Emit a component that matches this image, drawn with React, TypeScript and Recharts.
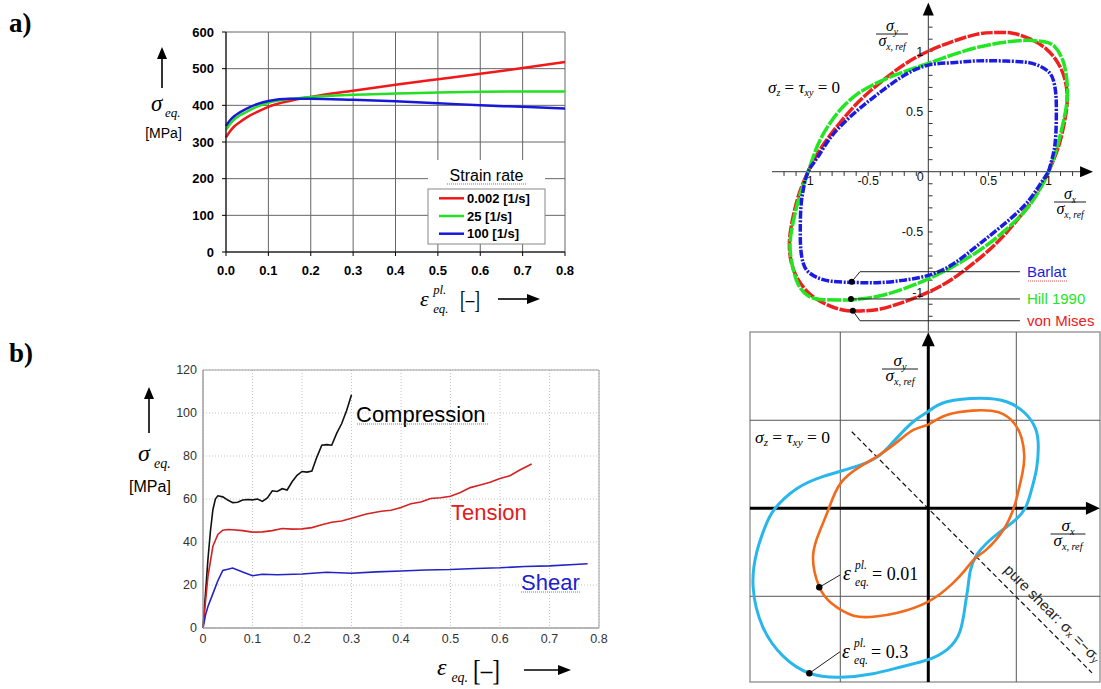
import {
  LineChart,
  Line,
  XAxis,
  YAxis,
  CartesianGrid,
  ReferenceLine,
  ReferenceDot,
  ReferenceArea,
} from 'recharts';

const SANS = "'Liberation Sans', Arial, Helvetica, sans-serif";
const SERIF = "'Liberation Serif', 'Times New Roman', serif";

// a) flow curves for three strain rates
const strainA = [0, 0.01, 0.02, 0.03, 0.05, 0.075, 0.1, 0.15, 0.2, 0.3, 0.4, 0.5, 0.6, 0.7, 0.8];
const rateSlow = [313, 330, 343, 352, 368, 383, 396, 412, 423, 440, 456, 471, 486, 502, 518];
const rateMid = [333, 350, 362, 371, 383, 397, 407, 417, 423, 429, 432, 435, 437, 438, 438];
const rateFast = [344, 360, 371, 379, 392, 404, 412, 418, 418, 415, 411, 406, 400, 396, 391];
const xTicksA = [0, 0.1, 0.2, 0.3, 0.4, 0.5, 0.6, 0.7, 0.8];
const yTicksA = [0, 100, 200, 300, 400, 500, 600];
const legendA = ['0.002 [1/s]', '25 [1/s]', '100 [1/s]'];
const colorsA = ['#f01818', '#22e022', '#1818d8'];

// b) compression / tension / shear
const compStrain = [0, 0.005, 0.01, 0.015, 0.02, 0.025, 0.03, 0.04, 0.05, 0.06, 0.07, 0.08, 0.09, 0.1, 0.11, 0.12, 0.13, 0.14, 0.15, 0.16, 0.17, 0.18, 0.19, 0.2, 0.21, 0.22, 0.23, 0.24, 0.25, 0.26, 0.27, 0.28, 0.29, 0.3];
const compStress = [0, 16, 32, 45, 55, 60, 61.5, 61, 59.5, 58.3, 58.5, 59.5, 59.8, 59.6, 60, 58.9, 60.5, 63.8, 63.5, 64.8, 64.2, 68, 71, 72.8, 72.5, 73, 79.5, 85, 85.3, 85, 90.5, 95, 101, 108.5];
const tensStrain = [0, 0.005, 0.01, 0.02, 0.03, 0.04, 0.05, 0.06, 0.08, 0.1, 0.12, 0.14, 0.16, 0.18, 0.2, 0.22, 0.24, 0.26, 0.28, 0.3, 0.33, 0.36, 0.38, 0.4, 0.42, 0.44, 0.46, 0.48, 0.5, 0.52, 0.54, 0.56, 0.58, 0.6, 0.62, 0.64, 0.664];
const tensStress = [0, 12, 24, 38, 43.5, 45.5, 45.8, 45.7, 45.3, 44.6, 44.7, 45.3, 46.3, 46, 46.1, 46.7, 48, 49.2, 49.8, 51, 53, 54.3, 54.8, 56, 57.8, 58.6, 60.2, 60.6, 61.3, 63, 65.3, 66.5, 67.8, 69.5, 70.8, 73.5, 76.3];
const shearStrain = [0, 0.005, 0.01, 0.02, 0.03, 0.04, 0.05, 0.06, 0.08, 0.1, 0.12, 0.15, 0.2, 0.25, 0.3, 0.35, 0.4, 0.45, 0.5, 0.55, 0.6, 0.65, 0.7, 0.75, 0.777];
const shearStress = [0, 6, 10, 16, 22, 26.8, 27.3, 27.9, 26, 24.3, 25, 24.8, 25.1, 25.9, 25.5, 26.1, 26.5, 27, 27.2, 27.7, 28, 28.6, 28.9, 29.5, 29.9];
const xTicksB = [0, 0.1, 0.2, 0.3, 0.4, 0.5, 0.6, 0.7, 0.8];
const yTicksB = [0, 20, 40, 60, 80, 100, 120];

// yield loci (sigma_x / ref, sigma_y / ref)
const vonMises = [[1.0, 0], [1.08, 0.2], [1.13, 0.4], [1.155, 0.58], [1.14, 0.75], [1.08, 0.9], [0.98, 1.02], [0.85, 1.1], [0.7, 1.15], [0.55, 1.155], [0.4, 1.14], [0.2, 1.08], [0, 1.0], [-0.2, 0.89], [-0.4, 0.74], [-0.58, 0.58], [-0.74, 0.4], [-0.89, 0.2], [-1.0, 0], [-1.08, -0.2], [-1.13, -0.4], [-1.155, -0.58], [-1.14, -0.75], [-1.08, -0.9], [-0.98, -1.02], [-0.85, -1.1], [-0.7, -1.15], [-0.55, -1.155], [-0.4, -1.14], [-0.2, -1.08], [0, -1.0], [0.2, -0.89], [0.4, -0.74], [0.58, -0.58], [0.74, -0.4], [0.89, -0.2], [1.0, 0]];
const hill1990 = [[-0.57, 0.66], [-0.7, 0.55], [-0.82, 0.4], [-0.92, 0.22], [-1.0, 0], [-1.07, -0.2], [-1.12, -0.4], [-1.15, -0.6], [-1.13, -0.78], [-1.08, -0.94], [-1.0, -1.03], [-0.9, -1.06], [-0.75, -1.065], [-0.6, -1.06], [-0.4, -1.03], [-0.2, -0.97], [0, -0.89], [0.2, -0.79], [0.4, -0.67], [0.6, -0.52], [0.8, -0.33], [0.92, -0.16], [1.0, 0], [1.07, 0.2], [1.12, 0.4], [1.155, 0.6], [1.15, 0.78], [1.12, 0.92], [1.05, 1.04], [0.95, 1.08], [0.8, 1.09], [0.6, 1.07], [0.4, 1.03], [0.2, 0.97], [0, 0.9], [-0.2, 0.83], [-0.4, 0.75], [-0.57, 0.66]];
const barlat = [[1.0, 0], [1.04, 0.15], [1.06, 0.3], [1.065, 0.5], [1.06, 0.65], [1.04, 0.76], [1.0, 0.83], [0.92, 0.88], [0.8, 0.91], [0.6, 0.92], [0.4, 0.92], [0.2, 0.905], [0, 0.885], [-0.2, 0.8], [-0.4, 0.66], [-0.6, 0.5], [-0.8, 0.3], [-0.92, 0.12], [-1.0, 0], [-1.04, -0.15], [-1.06, -0.3], [-1.065, -0.5], [-1.06, -0.65], [-1.04, -0.76], [-1.0, -0.83], [-0.92, -0.88], [-0.8, -0.91], [-0.6, -0.92], [-0.4, -0.92], [-0.2, -0.9], [0, -0.86], [0.2, -0.77], [0.4, -0.62], [0.6, -0.46], [0.8, -0.28], [0.92, -0.12], [1.0, 0]];
const majorTR = [-1, -0.5, 0.5, 1];
const minorTR = [-1.2, -1.1, -1, -0.9, -0.8, -0.7, -0.6, -0.5, -0.4, -0.3, -0.2, -0.1, 0.1, 0.2, 0.3, 0.4, 0.5, 0.6, 0.7, 0.8, 0.9, 1, 1.1, 1.2];
const lociNames = ['Barlat', 'Hill 1990', 'von Mises'];
const lociColors = ['#1c1ce0', '#22e622', '#ee2020'];

// evolving yield locus at two plastic strains
const locus001 = [[0, 0.95], [0.21, 1.06], [0.5, 1.11], [0.8, 1.09], [0.98, 0.96], [1.06, 0.8], [1.09, 0.6], [1.07, 0.4], [1.02, 0.18], [0.97, 0], [0.85, -0.25], [0.66, -0.47], [0.53, -0.57], [0.42, -0.7], [0.28, -0.85], [0, -1.06], [-0.36, -1.19], [-0.6, -1.23], [-0.85, -1.22], [-1.1, -1.08], [-1.24, -0.89], [-1.31, -0.55], [-1.23, -0.25], [-1.13, 0], [-1.0, 0.28], [-0.78, 0.47], [-0.55, 0.61], [-0.32, 0.78], [-0.17, 0.89], [0, 0.95]];
const locus03 = [[0, 1.1], [0.21, 1.21], [0.59, 1.25], [0.89, 1.21], [1.1, 1.08], [1.22, 0.9], [1.25, 0.7], [1.23, 0.45], [1.17, 0.2], [1.1, 0], [0.97, -0.15], [0.8, -0.28], [0.66, -0.4], [0.55, -0.53], [0.48, -0.7], [0.45, -0.9], [0.42, -1.1], [0.36, -1.4], [0.22, -1.6], [0, -1.72], [-0.3, -1.8], [-0.63, -1.88], [-1.0, -1.92], [-1.35, -1.875], [-1.65, -1.68], [-1.88, -1.35], [-1.99, -0.9], [-1.95, -0.5], [-1.85, -0.2], [-1.74, 0], [-1.5, 0.22], [-1.2, 0.36], [-0.9, 0.45], [-0.7, 0.52], [-0.57, 0.59], [-0.45, 0.7], [-0.3, 0.86], [-0.15, 1.0], [0, 1.1]];

const loop = (pts: number[][]) => pts.map(([x, y]) => ({ x, y }));
const series = (xs: number[], ys: number[]) => xs.map((x, i) => ({ x, y: ys[i] }));

const arrowHead = (dir: 'right' | 'up', len: number, half: number) => (p: any) => {
  const { cx, cy } = p;
  const d =
    dir === 'right'
      ? `M${cx},${cy} L${cx - len},${cy - half} L${cx - len},${cy + half} Z`
      : `M${cx},${cy} L${cx - half},${cy + len} L${cx + half},${cy + len} Z`;
  return <path d={d} fill="#000" />;
};

const tickText = (text: string, dx: number, dy: number, anchor: string) => (p: any) => (
  <text x={p.cx + dx} y={p.cy + dy} textAnchor={anchor} fontFamily={SANS} fontSize={12.5} fill="#111">
    {text}
  </text>
);

function StrainRateChart() {
  const data = strainA.map((s, i) => ({ s, slow: rateSlow[i], mid: rateMid[i], fast: rateFast[i] }));
  const tick = { fill: '#000', fontSize: 13, fontWeight: 700, fontFamily: SANS };
  return (
    <LineChart width={450} height={320} data={data} margin={{ top: 32, right: 35, left: 36, bottom: 38 }}>
      <CartesianGrid stroke="#666" strokeWidth={1} />
      <XAxis
        dataKey="s"
        type="number"
        domain={[0, 0.8]}
        ticks={xTicksA}
        interval={0}
        tickFormatter={(v: number) => v.toFixed(1)}
        height={30}
        tickSize={4}
        tickMargin={10}
        axisLine={{ stroke: '#000' }}
        tickLine={{ stroke: '#000' }}
        tick={tick}
      />
      <YAxis
        type="number"
        domain={[0, 600]}
        ticks={yTicksA}
        interval={0}
        width={40}
        tickSize={4}
        tickMargin={8}
        axisLine={{ stroke: '#000' }}
        tickLine={{ stroke: '#000' }}
        tick={tick}
      />
      <Line dataKey="slow" type="monotone" stroke={colorsA[0]} strokeWidth={2.5} dot={false} isAnimationActive={false} />
      <Line dataKey="mid" type="monotone" stroke={colorsA[1]} strokeWidth={2.5} dot={false} isAnimationActive={false} />
      <Line dataKey="fast" type="monotone" stroke={colorsA[2]} strokeWidth={2.5} dot={false} isAnimationActive={false} />
    </LineChart>
  );
}

function LoadCaseChart() {
  const tick = { fill: '#333', fontSize: 12.5, fontFamily: SANS };
  return (
    <LineChart width={500} height={320} margin={{ top: 20, right: 31, left: 33, bottom: 12 }}>
      <CartesianGrid stroke="#c4c4c4" strokeDasharray="1 2" />
      <ReferenceArea x1={0} x2={0.8} y1={0} y2={120} fill="none" stroke="#a0a0a0" strokeWidth={1} />
      <XAxis
        dataKey="x"
        type="number"
        domain={[0, 0.8]}
        ticks={xTicksB}
        interval={0}
        height={30}
        tickSize={0}
        tickMargin={6}
        axisLine={{ stroke: '#a0a0a0' }}
        tick={tick}
      />
      <YAxis
        type="number"
        domain={[0, 120]}
        ticks={yTicksB}
        interval={0}
        width={40}
        tickSize={0}
        tickMargin={6}
        axisLine={{ stroke: '#a0a0a0' }}
        tick={tick}
      />
      <Line data={series(compStrain, compStress)} dataKey="y" type="linear" stroke="#111" strokeWidth={1.6} dot={false} isAnimationActive={false} />
      <Line data={series(tensStrain, tensStress)} dataKey="y" type="linear" stroke="#d42222" strokeWidth={1.6} dot={false} isAnimationActive={false} />
      <Line data={series(shearStrain, shearStress)} dataKey="y" type="linear" stroke="#2424c4" strokeWidth={1.6} dot={false} isAnimationActive={false} />
    </LineChart>
  );
}

function LociChart() {
  const leaderY = [-0.83, -1.056, -1.237];
  const dots = [[-0.637, -0.913], [-0.643, -1.056], [-0.628, -1.154]];
  return (
    <LineChart width={341} height={340} margin={{ top: 1, right: 4, left: 12, bottom: 6 }}>
      <XAxis dataKey="x" type="number" domain={[-1.3, 1.403]} hide allowDataOverflow height={0} />
      <YAxis type="number" domain={[-1.347, 1.417]} hide allowDataOverflow width={0} />
      <ReferenceLine segment={[{ x: -1.3, y: 0 }, { x: 1.3, y: 0 }]} stroke="#333" strokeWidth={1} />
      <ReferenceLine segment={[{ x: 0, y: -1.34 }, { x: 0, y: 1.32 }]} stroke="#333" strokeWidth={1} />
      <ReferenceDot x={1.37} y={0} r={0} shape={arrowHead('right', 13, 5.5)} />
      <ReferenceDot x={0} y={1.405} r={0} shape={arrowHead('up', 13, 5.5)} />
      {minorTR.map((t) => (
        <ReferenceLine key={'tx' + t} segment={[{ x: t, y: 0 }, { x: t, y: -0.035 }]} stroke="#333" />
      ))}
      {minorTR.map((t) => (
        <ReferenceLine key={'ty' + t} segment={[{ x: 0, y: t }, { x: 0.035, y: t }]} stroke="#333" />
      ))}
      {majorTR.map((t) => (
        <ReferenceDot key={'lx' + t} x={t} y={0} r={0} shape={tickText(String(t), 0, 13, 'middle')} />
      ))}
      {majorTR.map((t) => (
        <ReferenceDot key={'ly' + t} x={0} y={t} r={0} shape={tickText(String(t), -5, 4.5, 'end')} />
      ))}
      <ReferenceDot x={0} y={0} r={0} shape={tickText('0', -8, 9.5, 'middle')} />

      <Line data={loop(vonMises)} dataKey="y" type="natural" stroke={lociColors[2]} strokeWidth={3.5} strokeDasharray="12 1.5" dot={false} isAnimationActive={false} />
      <Line data={loop(hill1990)} dataKey="y" type="natural" stroke={lociColors[1]} strokeWidth={3.5} strokeDasharray="14 1.5" dot={false} isAnimationActive={false} />
      <Line data={loop(barlat)} dataKey="y" type="natural" stroke={lociColors[0]} strokeWidth={3.5} strokeDasharray="8 1.5 2 1.5" dot={false} isAnimationActive={false} />

      <ReferenceLine segment={[{ x: dots[0][0], y: dots[0][1] }, { x: -0.568, y: leaderY[0] }]} stroke="#222" />
      <ReferenceLine segment={[{ x: -0.568, y: leaderY[0] }, { x: 0.762, y: leaderY[0] }]} stroke="#222" />
      <ReferenceLine segment={[{ x: dots[1][0], y: dots[1][1] }, { x: 0.762, y: leaderY[1] }]} stroke="#222" />
      <ReferenceLine segment={[{ x: dots[2][0], y: dots[2][1] }, { x: -0.568, y: leaderY[2] }]} stroke="#222" />
      <ReferenceLine segment={[{ x: -0.568, y: leaderY[2] }, { x: 0.762, y: leaderY[2] }]} stroke="#222" />
      {dots.map(([x, y], i) => (
        <ReferenceDot key={'d' + i} x={x} y={y} r={3} fill="#000" stroke="none" />
      ))}
      {lociNames.map((name, i) => (
        <ReferenceDot
          key={name}
          x={0.762}
          y={leaderY[i]}
          r={0}
          shape={(p: any) => (
            <text x={p.cx + 7} y={p.cy + 5.5} fontFamily={SANS} fontSize={15} fill={lociColors[i]}>
              {name}
            </text>
          )}
        />
      ))}
    </LineChart>
  );
}

function EvolutionChart() {
  return (
    <LineChart width={361} height={359} margin={{ top: 2, right: 1, left: 10, bottom: 7 }}>
      <XAxis dataKey="x" type="number" domain={[-2.026, 1.951]} hide allowDataOverflow height={0} />
      <YAxis type="number" domain={[-1.974, 2.003]} hide allowDataOverflow width={0} />
      <ReferenceArea x1={-2.026} x2={1.951} y1={-1.974} y2={2.003} fill="none" stroke="#9a9a9a" strokeWidth={1.5} />
      <ReferenceLine x={-1} stroke="#555" />
      <ReferenceLine x={1} stroke="#555" />
      <ReferenceLine y={1} stroke="#555" />
      <ReferenceLine y={-1} stroke="#555" />
      <ReferenceLine segment={[{ x: -0.87, y: 0.87 }, { x: 1.86, y: -1.87 }]} stroke="#111" strokeWidth={1.2} strokeDasharray="5 3" />
      <ReferenceLine segment={[{ x: -2.026, y: 0 }, { x: 1.86, y: 0 }]} stroke="#000" strokeWidth={3} />
      <ReferenceLine segment={[{ x: 0, y: -1.974 }, { x: 0, y: 1.9 }]} stroke="#000" strokeWidth={3} />
      <ReferenceDot x={1.95} y={0} r={0} shape={arrowHead('right', 14, 6.5)} />
      <ReferenceDot x={0} y={2.0} r={0} shape={arrowHead('up', 14, 6.5)} />

      <Line data={loop(locus03)} dataKey="y" type="natural" stroke="#29b6ea" strokeWidth={3} dot={false} isAnimationActive={false} />
      <Line data={loop(locus001)} dataKey="y" type="natural" stroke="#f26a1b" strokeWidth={2.6} dot={false} isAnimationActive={false} />

      <ReferenceLine segment={[{ x: -1.239, y: -0.898 }, { x: -1.003, y: -0.758 }]} stroke="#222" />
      <ReferenceLine segment={[{ x: -1.352, y: -1.875 }, { x: -1.003, y: -1.63 }]} stroke="#222" />
      <ReferenceDot x={-1.239} y={-0.898} r={3.2} fill="#000" stroke="none" />
      <ReferenceDot x={-1.352} y={-1.875} r={3.2} fill="#000" stroke="none" />
    </LineChart>
  );
}

const UpArrow = ({ x, tip, bottom }: { x: number; tip: number; bottom: number }) => (
  <g>
    <line x1={x} x2={x} y1={bottom} y2={tip + 10} stroke="#000" strokeWidth={1.6} />
    <path d={`M${x},${tip} L${x - 5},${tip + 12} L${x + 5},${tip + 12} Z`} fill="#000" />
  </g>
);

const RightArrow = ({ x1, tip, y }: { x1: number; tip: number; y: number }) => (
  <g>
    <line x1={x1} x2={tip - 10} y1={y} y2={y} stroke="#000" strokeWidth={1.6} />
    <path d={`M${tip},${y} L${tip - 13},${y - 5} L${tip - 13},${y + 5} Z`} fill="#000" />
  </g>
);

const Sigma = ({ x, y, sub, size, anchor = 'start' }: { x: number; y: number; sub: string; size: number; anchor?: string }) => (
  <text x={x} y={y} textAnchor={anchor} fontFamily={SERIF} fontStyle="italic" fontSize={size}>
    σ
    <tspan fontSize={size * 0.6} dy={size * 0.25}>
      {sub}
    </tspan>
  </text>
);

const Fraction = ({ cx, y, w, num, size }: { cx: number; y: number; w: number; num: string; size: number }) => (
  <g>
    <Sigma x={cx} y={y} sub={num} size={size} anchor="middle" />
    <line x1={cx - w / 2} x2={cx + w / 2} y1={y + 3} y2={y + 3} stroke="#000" strokeWidth={0.9} />
    <Sigma x={cx} y={y + 15} sub="x, ref" size={size} anchor="middle" />
  </g>
);

const Epsilon = ({ x, y, size, sup }: { x: number; y: number; size: number; sup?: string }) => (
  <g fontFamily={SERIF} fontStyle="italic">
    <text x={x} y={y} fontSize={size}>
      ε
    </text>
    {sup && (
      <text x={x + size * 0.6} y={y - size * 0.55} fontSize={size * 0.58}>
        {sup}
      </text>
    )}
    <text x={x + size * 0.6} y={y + size * 0.3} fontSize={size * 0.58}>
      eq.
    </text>
  </g>
);

const Bracket = ({ x, y, w, size }: { x: number; y: number; w: number; size: number }) => (
  <text x={x} y={y} fontFamily={SERIF} fontSize={size} textLength={w} lengthAdjust="spacingAndGlyphs">
    [–]
  </text>
);

const SpellLine = ({ x1, x2, y }: { x1: number; x2: number; y: number }) => (
  <line x1={x1} x2={x2} y1={y} y2={y} stroke="#e05050" strokeWidth={1} strokeDasharray="1 1" />
);

function Annotations() {
  const rowsA = [198.3, 216, 233.7];
  return (
    <svg width={1101} height={689} style={{ position: 'absolute', left: 0, top: 0, pointerEvents: 'none' }}>
      <text x={9} y={32} fontFamily={SERIF} fontWeight={700} fontSize={27}>
        a)
      </text>
      <text x={9} y={362} fontFamily={SERIF} fontWeight={700} fontSize={27}>
        b)
      </text>

      {/* a) axis titles */}
      <UpArrow x={162} tip={47} bottom={88} />
      <text x={151} y={111} fontFamily={SERIF} fontStyle="italic" fontSize={23}>
        σ
      </text>
      <text x={165} y={117} fontFamily={SERIF} fontStyle="italic" fontSize={13}>
        eq.
      </text>
      <text x={163.5} y={138} textAnchor="middle" fontFamily={SANS} fontSize={14}>
        [MPa]
      </text>
      <Epsilon x={420} y={306} size={22} sup="pl." />
      <Bracket x={460} y={308} w={20} size={26} />
      <RightArrow x1={498} tip={540} y={299} />

      {/* a) legend */}
      <rect x={428} y={160} width={117} height={84} fill="#fff" />
      <rect x={428} y={189} width={117} height={55} fill="#fff" stroke="#888" />
      <text x={486.5} y={181} textAnchor="middle" fontFamily={SANS} fontSize={16}>
        Strain rate
      </text>
      <SpellLine x1={447} x2={526} y={184} />
      {legendA.map((name, i) => (
        <g key={name}>
          <line x1={439} x2={464} y1={rowsA[i]} y2={rowsA[i]} stroke={colorsA[i]} strokeWidth={2.5} />
          <text x={467} y={rowsA[i] + 4.5} fontFamily={SANS} fontWeight={700} fontSize={13}>
            {name}
          </text>
        </g>
      ))}

      {/* b) axis titles and curve names */}
      <UpArrow x={149} tip={387} bottom={433} />
      <text x={138} y={461} fontFamily={SERIF} fontStyle="italic" fontSize={24}>
        σ
      </text>
      <text x={154} y={468} fontFamily={SERIF} fontStyle="italic" fontSize={14}>
        eq.
      </text>
      <text x={150} y={492} textAnchor="middle" fontFamily={SANS} fontSize={16}>
        [MPa]
      </text>
      <Epsilon x={437} y={675} size={24} />
      <Bracket x={473} y={680} w={27} size={30} />
      <RightArrow x1={524} tip={571} y={670} />
      <text x={356} y={422} fontFamily={SANS} fontSize={22} fill="#000">
        Compression
      </text>
      <SpellLine x1={357} x2={488} y={424} />
      <text x={451} y={520} fontFamily={SANS} fontSize={22} fill="#e02020">
        Tension
      </text>
      <text x={521} y={590} fontFamily={SANS} fontSize={22} fill="#2020d0">
        Shear
      </text>
      <SpellLine x1={521} x2={580} y={592} />

      {/* top right yield loci labels */}
      <Fraction cx={892} y={31} w={32} num="y" size={16} />
      <Fraction cx={1070} y={199} w={32} num="x" size={16} />
      <text x={768} y={93} fontFamily={SERIF} fontSize={17}>
        <tspan fontStyle="italic">σ</tspan>
        <tspan fontStyle="italic" fontSize={10} dy={3}>z</tspan>
        <tspan dy={-3}> = </tspan>
        <tspan fontStyle="italic">τ</tspan>
        <tspan fontStyle="italic" fontSize={10} dy={3}>xy</tspan>
        <tspan dy={-3}> = 0</tspan>
      </text>
      <SpellLine x1={1028} x2={1067} y={281} />

      {/* bottom right evolving locus labels */}
      <Fraction cx={900} y={366} w={36} num="y" size={17} />
      <Fraction cx={1068} y={531} w={35} num="x" size={17} />
      <text x={755} y={443} fontFamily={SERIF} fontSize={17.5}>
        <tspan fontStyle="italic">σ</tspan>
        <tspan fontStyle="italic" fontSize={11} dy={3}>z</tspan>
        <tspan dy={-3}> = </tspan>
        <tspan fontStyle="italic">τ</tspan>
        <tspan fontStyle="italic" fontSize={11} dy={3}>xy</tspan>
        <tspan dy={-3}> = 0</tspan>
      </text>
      <Epsilon x={843} y={580} size={20} sup="pl." />
      <text x={872} y={580} fontFamily={SERIF} fontSize={18}>
        = 0.01
      </text>
      <Epsilon x={842} y={658} size={20} sup="pl." />
      <text x={871} y={658} fontFamily={SERIF} fontSize={18}>
        = 0.3
      </text>
      <text
        x={1053}
        y={613}
        textAnchor="middle"
        dominantBaseline="central"
        fontFamily={SANS}
        fontSize={15}
        fill="#222"
        transform="rotate(45 1053 613)"
      >
        pure shear: σ<tspan fontSize={10} dy={3}>x</tspan>
        <tspan dy={-3}> =−σ</tspan>
        <tspan fontSize={10} dy={3}>y</tspan>
      </text>
    </svg>
  );
}

export default function App() {
  return (
    <div
      style={{
        position: 'absolute',
        left: 0,
        top: 0,
        width: 1101,
        height: 689,
        background: '#fff',
        overflow: 'hidden',
        fontFamily: SANS,
      }}
    >
      <div style={{ position: 'absolute', left: 150, top: 0 }}>
        <StrainRateChart />
      </div>
      <div style={{ position: 'absolute', left: 130, top: 350 }}>
        <LoadCaseChart />
      </div>
      <div style={{ position: 'absolute', left: 760, top: 0 }}>
        <LociChart />
      </div>
      <div style={{ position: 'absolute', left: 740, top: 330 }}>
        <EvolutionChart />
      </div>
      <Annotations />
    </div>
  );
}
